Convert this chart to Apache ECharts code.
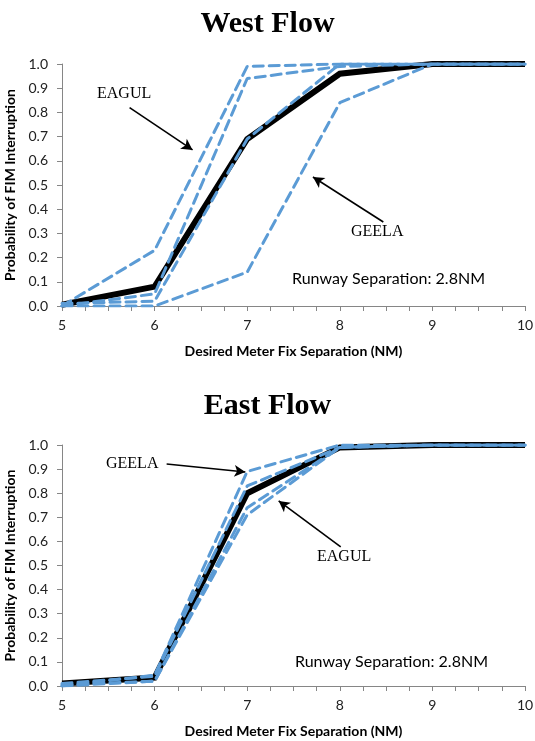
<!DOCTYPE html>
<html>
<head>
<meta charset="utf-8">
<script src="https://cdn.jsdelivr.net/npm/echarts@6/dist/echarts.min.js"></script>
<style>html,body{margin:0;padding:0;background:#fff;}#c{width:535px;height:741px;}</style>
</head>
<body>
<div id="c"></div>
<script>
// ---- data ----
const xValues = [5, 6, 7, 8, 9, 10];
const yTicks = [0, 0.1, 0.2, 0.3, 0.4, 0.5, 0.6, 0.7, 0.8, 0.9, 1.0];
const titles = ['West Flow', 'East Flow'];
const xAxisName = 'Desired Meter Fix Separation (NM)';
const yAxisName = 'Probability of FIM Interruption';
const runwayNote = 'Runway Separation: 2.8NM';

const westAvg    = [0.005, 0.08, 0.69, 0.96, 1.0, 1.0];
const westEagul1 = [0.0, 0.23, 0.99, 1.0, 1.0, 1.0];
const westEagul2 = [0.0, 0.05, 0.94, 0.99, 1.0, 1.0];
const westRoute3 = [0.01, 0.02, 0.69, 1.0, 1.0, 1.0];
const westGeela  = [0.0, 0.0, 0.14, 0.84, 1.0, 1.0];

const eastAvg    = [0.01, 0.035, 0.80, 0.99, 1.0, 1.0];
const eastGeela1 = [0.0, 0.045, 0.89, 1.0, 1.0, 1.0];
const eastGeela2 = [0.01, 0.04, 0.83, 0.99, 1.0, 1.0];
const eastEagul1 = [0.0, 0.02, 0.74, 0.99, 1.0, 1.0];
const eastEagul2 = [0.005, 0.02, 0.71, 0.99, 1.0, 1.0];

// annotation arrows in data coordinates: [fromX, fromY, toX, toY]
const westEagulArrow = [5.73, 0.82, 6.41, 0.645];
const westGeelaArrow = [8.47, 0.347, 7.71, 0.533];
const eastGeelaArrow = [6.13, 0.921, 6.98, 0.888];
const eastEagulArrow = [8.01, 0.577, 7.34, 0.768];

// ---- chart ----
const pair = (ys) => xValues.map((x, i) => [x, ys[i]]);
const blue = '#5B9BD5';
const sans = 'Lato, "Open Sans", sans-serif';
const serif = '"Liberation Serif", "DejaVu Serif", serif';

function arrowLine(a) {
  return [{ coord: [a[0], a[1]] }, { coord: [a[2], a[3]] }];
}

function avgSeries(idx, ys, arrows) {
  return {
    type: 'line', xAxisIndex: idx, yAxisIndex: idx, data: pair(ys),
    symbol: 'none', z: 2,
    lineStyle: { color: '#000', width: 6, join: 'miter' },
    markLine: {
      silent: true, symbol: ['none', 'arrow'], symbolSize: [9, 11],
      label: { show: false },
      lineStyle: { color: '#000', width: 1.6, type: 'solid' },
      data: arrows.map(arrowLine)
    }
  };
}
function dashSeries(idx, ys) {
  return {
    type: 'line', xAxisIndex: idx, yAxisIndex: idx, data: pair(ys),
    symbol: 'none', z: 3,
    lineStyle: { color: blue, width: 3, type: [10, 6], cap: 'round' }
  };
}

function xAxis(idx) {
  return {
    type: 'value', gridIndex: idx, min: 5, max: 10, interval: 1,
    name: xAxisName, nameLocation: 'middle', nameGap: 38,
    nameTextStyle: { fontFamily: sans, fontWeight: 'bold', fontSize: 14, color: '#000' },
    axisLine: { lineStyle: { color: '#868686', width: 1 } },
    axisTick: { show: true, length: 5, lineStyle: { color: '#868686' } },
    minorTick: { show: true, splitNumber: 4, length: 5, lineStyle: { color: '#868686' } },
    splitLine: { show: false },
    axisLabel: { fontFamily: sans, fontSize: 14, color: '#222', margin: 12 }
  };
}
function yAxis(idx) {
  return {
    type: 'value', gridIndex: idx, min: 0, max: 1, interval: 0.1,
    name: yAxisName, nameLocation: 'middle', nameGap: 41, nameRotate: 90,
    nameTextStyle: { fontFamily: sans, fontWeight: 'bold', fontSize: 14, color: '#000' },
    axisLine: { show: true, lineStyle: { color: '#868686', width: 1 } },
    axisTick: { show: true, length: 5, lineStyle: { color: '#868686' } },
    splitLine: { show: false },
    axisLabel: { fontFamily: sans, fontSize: 14, color: '#222', margin: 14,
      formatter: (v) => (yTicks.indexOf(Math.round(v * 10) / 10) >= 0 ? v.toFixed(1) : '') }
  };
}

const chart = echarts.init(document.getElementById('c'), null, { renderer: 'canvas' });
chart.setOption({
  animation: false,
  backgroundColor: '#fff',
  title: [
    { text: titles[0], left: 'center', top: 4,
      textStyle: { fontFamily: serif, fontWeight: 'bold', fontSize: 30, color: '#000' } },
    { text: titles[1], left: 'center', top: 386,
      textStyle: { fontFamily: serif, fontWeight: 'bold', fontSize: 30, color: '#000' } }
  ],
  grid: [
    { left: 62, right: 10, top: 64, height: 242, containLabel: false, outerBoundsMode: 'none' },
    { left: 62, right: 10, top: 445, height: 241, containLabel: false, outerBoundsMode: 'none' }
  ],
  xAxis: [xAxis(0), xAxis(1)],
  yAxis: [yAxis(0), yAxis(1)],
  series: [
    avgSeries(0, westAvg, [westEagulArrow, westGeelaArrow]),
    dashSeries(0, westGeela),
    dashSeries(0, westRoute3),
    dashSeries(0, westEagul2),
    dashSeries(0, westEagul1),
    avgSeries(1, eastAvg, [eastGeelaArrow, eastEagulArrow]),
    dashSeries(1, eastEagul2),
    dashSeries(1, eastEagul1),
    dashSeries(1, eastGeela2),
    dashSeries(1, eastGeela1)
  ],
  graphic: [
    { type: 'text', left: 97, top: 86, style: { text: 'EAGUL', font: '16px ' + serif, fill: '#000' } },
    { type: 'text', left: 351, top: 224, style: { text: 'GEELA', font: '16px ' + serif, fill: '#000' } },
    { type: 'text', left: 292, top: 271, style: { text: runwayNote, font: '16px ' + sans, fill: '#000' } },
    { type: 'text', left: 106, top: 456, style: { text: 'GEELA', font: '16px ' + serif, fill: '#000' } },
    { type: 'text', left: 317, top: 549, style: { text: 'EAGUL', font: '16px ' + serif, fill: '#000' } },
    { type: 'text', left: 295, top: 654, style: { text: runwayNote, font: '16px ' + sans, fill: '#000' } }
  ]
});
</script>
</body>
</html>
